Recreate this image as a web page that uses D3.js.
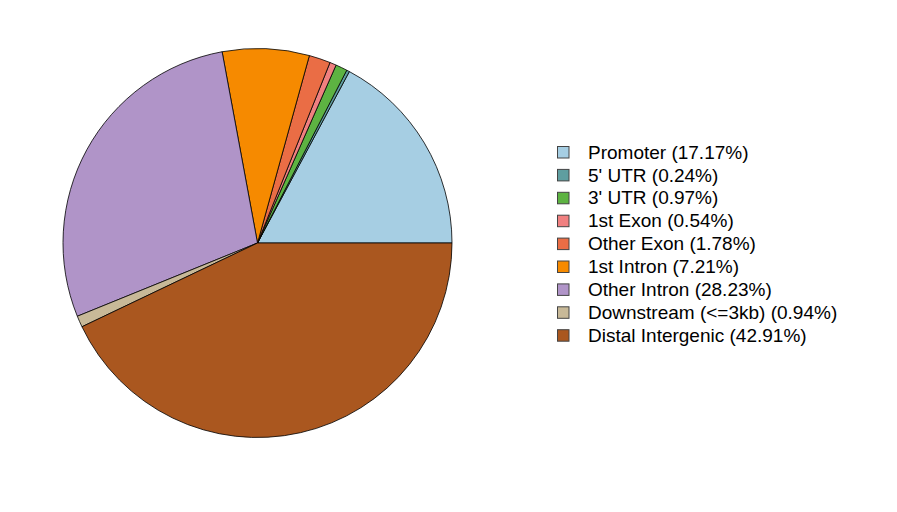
<!DOCTYPE html>
<html lang="en">
<head>
  <meta charset="UTF-8">
  <title>Feature Distribution</title>
  <script src="https://d3js.org/d3.v7.min.js"></script>
  <style>
    body {
      margin: 0;
      background: #fff;
      font-family: "Liberation Sans", Arial, sans-serif;
    }
  </style>
</head>
<body>
  <svg id="chart" width="897" height="512"></svg>

  <script>
const features = ["Promoter", "5' UTR", "3' UTR", "1st Exon", "Other Exon",
  "1st Intron", "Other Intron", "Downstream (<=3kb)", "Distal Intergenic"];
const percents = [17.17, 0.24, 0.97, 0.54, 1.78, 7.21, 28.23, 0.94, 42.91];
const colors = ["#a6cee3", "#5f9ea0", "#5db342", "#f08080", "#ea6d45",
  "#f68a00", "#b094c8", "#c8b998", "#aa571f"];

const svg = d3.select("#chart");

const cx = 257.5, cy = 243, radius = 194.5;

const data = features.map((f, i) => ({ key: f, value: percents[i], color: colors[i] }));

// R-style pie: starts at 3 o'clock, goes counterclockwise
const pie = d3.pie()
  .value(d => d.value)
  .sort(null)
  .startAngle(Math.PI / 2)
  .endAngle(Math.PI / 2 - 2 * Math.PI);

const arc = d3.arc().innerRadius(0).outerRadius(radius);

const g = svg.append("g").attr("transform", `translate(${cx},${cy})`);

g.selectAll("path")
  .data(pie(data))
  .enter()
  .append("path")
  .attr("d", arc)
  .attr("fill", d => d.data.color)
  .attr("stroke", "#000")
  .attr("stroke-width", 0.8)
  .attr("stroke-linejoin", "round");

// legend
const legend = svg.append("g").attr("transform", "translate(557,152)");
const rowH = 22.9;

const rows = legend.selectAll("g")
  .data(data)
  .enter()
  .append("g")
  .attr("transform", (d, i) => `translate(0,${i * rowH})`);

rows.append("rect")
  .attr("x", 0.5)
  .attr("y", -5.5)
  .attr("width", 11.5)
  .attr("height", 11.5)
  .attr("fill", d => d.color)
  .attr("stroke", "#444")
  .attr("stroke-width", 1);

rows.append("text")
  .attr("x", 31)
  .attr("y", 0)
  .attr("dy", "0.35em")
  .attr("font-size", "19px")
  .attr("fill", "#000")
  .text(d => `${d.key} (${d.value.toFixed(2)}%)`);
  </script>
</body>
</html>
